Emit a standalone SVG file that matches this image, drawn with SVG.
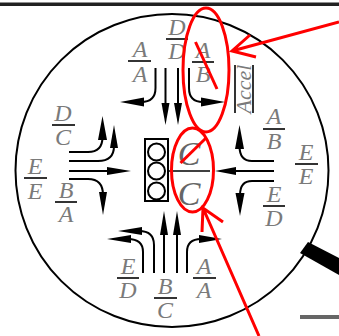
<svg xmlns="http://www.w3.org/2000/svg" width="339" height="336" viewBox="0 0 339 336">
<style>
.t{font-family:"Liberation Serif",serif;font-style:italic;font-size:24px;fill:#7a7a7a;text-anchor:middle}
.b{stroke:#000;stroke-width:1.6;fill:none}
.c{stroke:#000;stroke-width:2;fill:none}
.r{stroke:#f00;stroke-width:3;fill:none}
.h{fill:#000}
.l{fill:none;stroke:#000;stroke-width:2}
</style>
<rect width="339" height="336" fill="#fff"/>
<g id="frame">
<rect x="0" y="2.500" width="339" height="3.500" fill="#222"/>
<circle cx="172" cy="170.500" r="156.500" fill="none" stroke="#000" stroke-width="2"/>
<polygon points="300,253 308,242 339,258 339,275" fill="#000"/>
<rect x="300" y="315" width="39" height="4" fill="#666"/>
</g>
<g id="connectors">
<path class="c" d="M155.500 68V88Q155.500 102 141 102H135"/><polygon class="h" points="120,102 144,97.500 144,106.500"/>
<path class="c" d="M165.500 68V110"/><polygon class="h" points="165.500,125 161.500,103 169.500,103"/>
<path class="c" d="M178 68V110"/><polygon class="h" points="178,125 174,103 182,103"/>
<path class="c" d="M189 68V88Q189 102 203 102H208"/><polygon class="h" points="225,102 201,97.500 201,106.500"/>

<path class="c" d="M69 152H88Q102.500 152 102.500 137"/><polygon class="h" points="102.500,116 98,140 107,140"/>
<path class="c" d="M69 161H98Q114 161 114 146"/><polygon class="h" points="114,125 110,148 118,148"/>
<path class="c" d="M69 171H115"/><polygon class="h" points="131,171 107,167 107,175"/>
<path class="c" d="M69 179H88Q103 179 103 195"/><polygon class="h" points="103,215 99,192 107,192"/>

<path class="c" d="M274 161H252Q239.500 161 239.500 146"/><polygon class="h" points="239.500,125 235,149 244,149"/>
<path class="c" d="M274 171H230"/><polygon class="h" points="215,171 236,167 236,175"/>
<path class="c" d="M274 181H252Q240 181 240 195"/><polygon class="h" points="240,216 235.500,193 244.500,193"/>

<path class="c" d="M143 273V252Q143 239 128 239H122"/><polygon class="h" points="107,239 131,235 131,243"/>
<path class="c" d="M154 273V245Q154 231 139 231H132"/><polygon class="h" points="118,231 142,227 142,235"/>
<path class="c" d="M164 273V225"/><polygon class="h" points="164,211 160,235 168,235"/>
<path class="c" d="M177 273V225"/><polygon class="h" points="177,211 173,235 181,235"/>
<path class="c" d="M187 273V252Q187 239 201 239H210"/><polygon class="h" points="222,239 199,235 199,243"/>
</g>
<g id="frac-top-dd"><line class="b" x1="166" x2="188" y1="39" y2="39"/><text class="t" x="177" y="35">D</text><text class="t" x="177" y="59">D</text></g>
<g id="frac-top-aa"><line class="b" x1="128" x2="151" y1="61" y2="61"/><text class="t" x="140" y="57">A</text><text class="t" x="140" y="82">A</text></g>
<g id="frac-top-ab"><line class="b" x1="192" x2="214" y1="62" y2="62"/><text class="t" x="203" y="58">A</text><text class="t" x="203" y="82">B</text></g>
<g id="accel"><line class="b" x1="235" x2="235" y1="65" y2="113"/><line class="b" x1="253" x2="253" y1="65" y2="113"/><text class="t" transform="translate(250.500 89) rotate(-90)" style="font-size:22px">Accel</text></g>
<g id="frac-left-dc"><line class="b" x1="52" x2="75" y1="125" y2="125"/><text class="t" x="63" y="121">D</text><text class="t" x="63" y="145">C</text></g>
<g id="frac-left-ee"><line class="b" x1="24" x2="47" y1="178" y2="178"/><text class="t" x="35" y="174">E</text><text class="t" x="35" y="199">E</text></g>
<g id="frac-left-ba"><line class="b" x1="55" x2="77" y1="202" y2="202"/><text class="t" x="66" y="198">B</text><text class="t" x="66" y="222">A</text></g>
<g id="frac-right-ab"><line class="b" x1="263" x2="285" y1="129" y2="129"/><text class="t" x="274" y="124">A</text><text class="t" x="274" y="149">B</text></g>
<g id="frac-right-ee"><line class="b" x1="295" x2="318" y1="164" y2="164"/><text class="t" x="306" y="160">E</text><text class="t" x="306" y="184">E</text></g>
<g id="frac-right-ed"><line class="b" x1="263" x2="285" y1="206" y2="206"/><text class="t" x="274" y="202">E</text><text class="t" x="274" y="226">D</text></g>
<g id="frac-bottom-ed"><line class="b" x1="117" x2="139" y1="278" y2="278"/><text class="t" x="128" y="274">E</text><text class="t" x="128" y="298">D</text></g>
<g id="frac-bottom-bc"><line class="b" x1="154" x2="177" y1="298" y2="298"/><text class="t" x="165" y="294">B</text><text class="t" x="165" y="318">C</text></g>
<g id="frac-bottom-aa"><line class="b" x1="193" x2="216" y1="278" y2="278"/><text class="t" x="204" y="274">A</text><text class="t" x="204" y="298">A</text></g>
<g id="traffic-light"><rect x="145" y="139" width="23" height="62" fill="#fff" stroke="#000" stroke-width="2"/><circle class="l" cx="156.500" cy="152" r="8.500"/><circle class="l" cx="156.500" cy="171" r="8.500"/><circle class="l" cx="156.500" cy="191" r="8.500"/></g>
<g id="frac-center-cc"><line class="b" x1="168" x2="210" y1="171" y2="171"/><text class="t" x="189" y="165" style="font-size:34px;fill:#666">C</text><text class="t" x="189" y="205" style="font-size:34px;fill:#666">C</text></g>
<g id="red-marks">
<ellipse class="r" cx="206" cy="70" rx="23" ry="62"/>
<ellipse class="r" cx="192.500" cy="170" rx="21" ry="42"/>
<line class="r" x1="195.500" y1="42" x2="217" y2="89"/>
<line class="r" x1="180.500" y1="163" x2="206" y2="138"/>
<path class="r" d="M339 22L232 51M250 35L232 51L256 57"/>
<path class="r" d="M259 336L203 208M202 232L203 208L223 222"/>
</g>
</svg>
